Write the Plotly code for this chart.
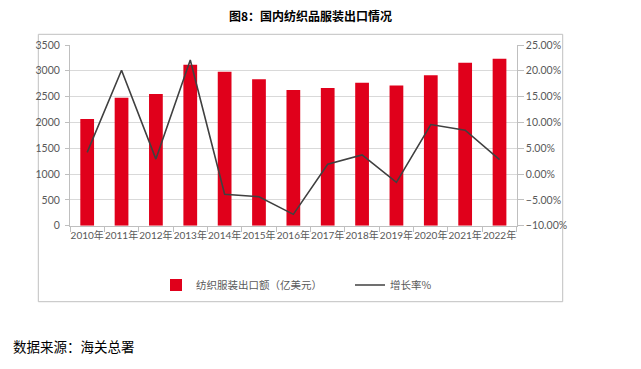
import plotly.graph_objects as go

years = ["2010年", "2011年", "2012年", "2013年", "2014年", "2015年", "2016年",
         "2017年", "2018年", "2019年", "2020年", "2021年", "2022年"]
export_value = [2065, 2479, 2551, 3118, 2984, 2838, 2626, 2669, 2767, 2714, 2912, 3155, 3233]
growth_rate = [4.2, 20.1, 2.9, 22.1, -3.9, -4.4, -7.8, 1.9, 3.7, -1.6, 9.6, 8.5, 2.8]

W, H = 641, 369
px = lambda v: v / W
py = lambda v: 1 - v / H

font_fam = "Lato, 'Noto Sans CJK SC', sans-serif"
tick_col = "#595959"

fig = go.Figure()
fig.add_trace(go.Bar(
    x=years, y=export_value, name="纺织服装出口额（亿美元）",
    marker=dict(color="#e0001b", line=dict(width=0)), width=0.4,
    yaxis="y",
))
fig.add_trace(go.Scatter(
    x=years, y=growth_rate, name="增长率%", mode="lines",
    line=dict(color="#404040", width=1.6), yaxis="y2",
))

fig.update_layout(
    width=W, height=H,
    margin=dict(l=0, r=0, t=0, b=0, autoexpand=False),
    paper_bgcolor="white", plot_bgcolor="white",
    font=dict(family=font_fam, size=10, color=tick_col),
    showlegend=True,
    legend=dict(
        orientation="h", x=px(156), y=py(285), yanchor="middle", xanchor="left",
        font=dict(family="'Noto Sans CJK SC', sans-serif", size=10.5, color=tick_col),
        bgcolor="rgba(0,0,0,0)", itemwidth=30, entrywidth=149, entrywidthmode="pixels",
        traceorder="normal",
    ),
    xaxis=dict(
        domain=[px(70), px(516.7)], anchor="y", automargin=False,
        type="category", tickson="boundaries", ticks="outside", ticklen=5,
        tickcolor="#bfbfbf", showline=True, linecolor="#bfbfbf", linewidth=1,
        showgrid=False, tickangle=0, tickfont=dict(size=10, color=tick_col),
    ),
    yaxis=dict(
        domain=[py(225.7), py(45)], range=[0, 3500], dtick=500, automargin=False,
        showgrid=True, gridcolor="#d9d9d9", gridwidth=1,
        showline=True, linecolor="#bfbfbf", ticks="outside", ticklen=4,
        tickcolor="#bfbfbf", zeroline=False, tickfont=dict(size=10.5, color=tick_col),
        ticklabelstandoff=3,
    ),
    yaxis2=dict(
        overlaying="y", side="right", anchor="x", range=[-10, 25], dtick=5, automargin=False,
        tickformat=".2f", ticksuffix="%", showgrid=False, zeroline=False,
        showline=True, linecolor="#bfbfbf", ticks="outside", ticklen=6,
        tickcolor="#bfbfbf", tickfont=dict(size=10.5, color=tick_col),
    ),
    shapes=[dict(
        type="rect", xref="paper", yref="paper",
        x0=px(38.3), x1=px(562.7), y0=py(301.7), y1=py(34.3),
        line=dict(color="#c0c0c0", width=1), fillcolor="rgba(0,0,0,0)", layer="below",
    )],
    annotations=[
        dict(text="<b>图8：国内纺织品服装出口情况</b>", xref="paper", yref="paper",
             x=px(310), y=py(15), xanchor="center", yanchor="middle", showarrow=False,
             font=dict(family="'Noto Sans CJK SC', sans-serif", size=12, color="#000000")),
        dict(text="数据来源：海关总署", xref="paper", yref="paper",
             x=px(11), y=py(346), xanchor="left", yanchor="middle", showarrow=False,
             font=dict(family="'Noto Sans CJK SC', sans-serif", size=13.5, color="#000000")),
    ],
)

fig.write_html(
    "out.html",
    config={"displayModeBar": False},
    post_script="document.body.style.margin='0';document.body.style.overflow='hidden';",
)
